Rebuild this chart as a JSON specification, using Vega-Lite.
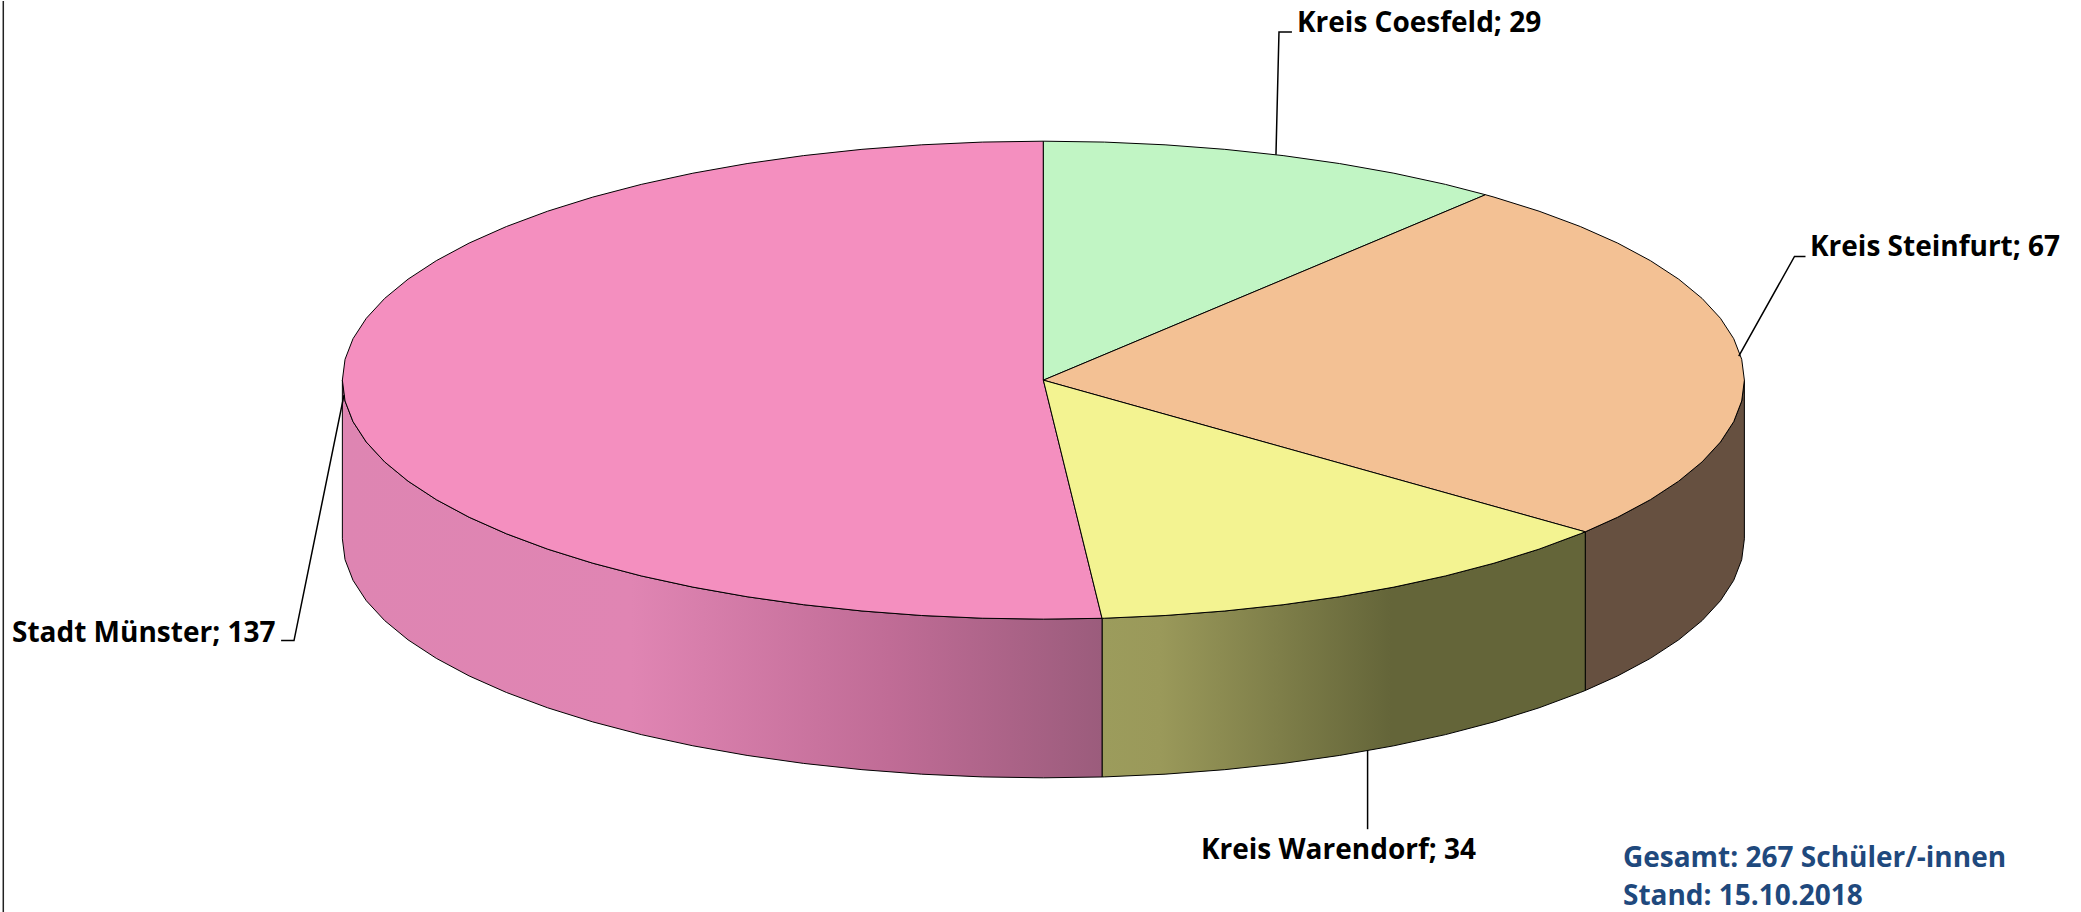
{
"$schema":"https://vega.github.io/schema/vega-lite/v6.json",
"width":2081,"height":912,
"autosize":{"type":"fit","contains":"padding"},
"padding":0,
"background":"white",
"view":{"stroke":null},
"config":{"axis":{"domain":false,"grid":false,"ticks":false,"labels":false,"title":null}},
"datasets":{
"top":[
{"k":"Coesfeld","i":0,"x":0,"y":0},{"k":"Coesfeld","i":1,"x":0,"y":100},{"k":"Coesfeld","i":2,"x":8.72,"y":99.62},{"k":"Coesfeld","i":3,"x":17.36,"y":98.48},{"k":"Coesfeld","i":4,"x":25.88,"y":96.59},{"k":"Coesfeld","i":5,"x":34.2,"y":93.97},{"k":"Coesfeld","i":6,"x":42.26,"y":90.63},{"k":"Coesfeld","i":7,"x":50,"y":86.6},{"k":"Coesfeld","i":8,"x":57.36,"y":81.92},{"k":"Coesfeld","i":9,"x":63.07,"y":77.59},
{"k":"Steinfurt","i":0,"x":0,"y":0},{"k":"Steinfurt","i":1,"x":63.07,"y":77.59},{"k":"Steinfurt","i":2,"x":64.28,"y":76.6},{"k":"Steinfurt","i":3,"x":70.71,"y":70.71},{"k":"Steinfurt","i":4,"x":76.6,"y":64.28},{"k":"Steinfurt","i":5,"x":81.92,"y":57.36},{"k":"Steinfurt","i":6,"x":86.6,"y":50},{"k":"Steinfurt","i":7,"x":90.63,"y":42.26},{"k":"Steinfurt","i":8,"x":93.97,"y":34.2},{"k":"Steinfurt","i":9,"x":96.59,"y":25.88},{"k":"Steinfurt","i":10,"x":98.48,"y":17.36},{"k":"Steinfurt","i":11,"x":99.62,"y":8.72},{"k":"Steinfurt","i":12,"x":100,"y":0},{"k":"Steinfurt","i":13,"x":99.62,"y":-8.72},{"k":"Steinfurt","i":14,"x":98.48,"y":-17.36},{"k":"Steinfurt","i":15,"x":96.59,"y":-25.88},{"k":"Steinfurt","i":16,"x":93.97,"y":-34.2},{"k":"Steinfurt","i":17,"x":90.63,"y":-42.26},{"k":"Steinfurt","i":18,"x":86.6,"y":-50},{"k":"Steinfurt","i":19,"x":81.92,"y":-57.36},{"k":"Steinfurt","i":20,"x":77.3,"y":-63.46},
{"k":"Warendorf","i":0,"x":0,"y":0},{"k":"Warendorf","i":1,"x":77.3,"y":-63.46},{"k":"Warendorf","i":2,"x":76.6,"y":-64.28},{"k":"Warendorf","i":3,"x":70.71,"y":-70.71},{"k":"Warendorf","i":4,"x":64.28,"y":-76.6},{"k":"Warendorf","i":5,"x":57.36,"y":-81.92},{"k":"Warendorf","i":6,"x":50,"y":-86.6},{"k":"Warendorf","i":7,"x":42.26,"y":-90.63},{"k":"Warendorf","i":8,"x":34.2,"y":-93.97},{"k":"Warendorf","i":9,"x":25.88,"y":-96.59},{"k":"Warendorf","i":10,"x":17.36,"y":-98.48},{"k":"Warendorf","i":11,"x":8.72,"y":-99.62},{"k":"Warendorf","i":12,"x":8.37,"y":-99.65},
{"k":"Münster","i":0,"x":0,"y":0},{"k":"Münster","i":1,"x":8.37,"y":-99.65},{"k":"Münster","i":2,"x":0,"y":-100},{"k":"Münster","i":3,"x":-8.72,"y":-99.62},{"k":"Münster","i":4,"x":-17.36,"y":-98.48},{"k":"Münster","i":5,"x":-25.88,"y":-96.59},{"k":"Münster","i":6,"x":-34.2,"y":-93.97},{"k":"Münster","i":7,"x":-42.26,"y":-90.63},{"k":"Münster","i":8,"x":-50,"y":-86.6},{"k":"Münster","i":9,"x":-57.36,"y":-81.92},{"k":"Münster","i":10,"x":-64.28,"y":-76.6},{"k":"Münster","i":11,"x":-70.71,"y":-70.71},{"k":"Münster","i":12,"x":-76.6,"y":-64.28},{"k":"Münster","i":13,"x":-81.92,"y":-57.36},{"k":"Münster","i":14,"x":-86.6,"y":-50},{"k":"Münster","i":15,"x":-90.63,"y":-42.26},{"k":"Münster","i":16,"x":-93.97,"y":-34.2},{"k":"Münster","i":17,"x":-96.59,"y":-25.88},{"k":"Münster","i":18,"x":-98.48,"y":-17.36},{"k":"Münster","i":19,"x":-99.62,"y":-8.72},{"k":"Münster","i":20,"x":-100,"y":0},{"k":"Münster","i":21,"x":-99.62,"y":8.72},{"k":"Münster","i":22,"x":-98.48,"y":17.36},{"k":"Münster","i":23,"x":-96.59,"y":25.88},{"k":"Münster","i":24,"x":-93.97,"y":34.2},{"k":"Münster","i":25,"x":-90.63,"y":42.26},{"k":"Münster","i":26,"x":-86.6,"y":50},{"k":"Münster","i":27,"x":-81.92,"y":57.36},{"k":"Münster","i":28,"x":-76.6,"y":64.28},{"k":"Münster","i":29,"x":-70.71,"y":70.71},{"k":"Münster","i":30,"x":-64.28,"y":76.6},{"k":"Münster","i":31,"x":-57.36,"y":81.92},{"k":"Münster","i":32,"x":-50,"y":86.6},{"k":"Münster","i":33,"x":-42.26,"y":90.63},{"k":"Münster","i":34,"x":-34.2,"y":93.97},{"k":"Münster","i":35,"x":-25.88,"y":96.59},{"k":"Münster","i":36,"x":-17.36,"y":98.48},{"k":"Münster","i":37,"x":-8.72,"y":99.62},{"k":"Münster","i":38,"x":0,"y":100}
],
"side":[
{"k":"Steinfurt","x":100,"y":0,"yb":-66.4},{"k":"Steinfurt","x":99.62,"y":-8.72,"yb":-75.12},{"k":"Steinfurt","x":98.48,"y":-17.36,"yb":-83.76},{"k":"Steinfurt","x":96.59,"y":-25.88,"yb":-92.28},{"k":"Steinfurt","x":93.97,"y":-34.2,"yb":-100.6},{"k":"Steinfurt","x":90.63,"y":-42.26,"yb":-108.66},{"k":"Steinfurt","x":86.6,"y":-50,"yb":-116.4},{"k":"Steinfurt","x":81.92,"y":-57.36,"yb":-123.76},{"k":"Steinfurt","x":77.3,"y":-63.46,"yb":-129.86},
{"k":"Warendorf","x":77.3,"y":-63.46,"yb":-129.86},{"k":"Warendorf","x":76.6,"y":-64.28,"yb":-130.68},{"k":"Warendorf","x":70.71,"y":-70.71,"yb":-137.11},{"k":"Warendorf","x":64.28,"y":-76.6,"yb":-143},{"k":"Warendorf","x":57.36,"y":-81.92,"yb":-148.32},{"k":"Warendorf","x":50,"y":-86.6,"yb":-153},{"k":"Warendorf","x":42.26,"y":-90.63,"yb":-157.03},{"k":"Warendorf","x":34.2,"y":-93.97,"yb":-160.37},{"k":"Warendorf","x":25.88,"y":-96.59,"yb":-162.99},{"k":"Warendorf","x":17.36,"y":-98.48,"yb":-164.88},{"k":"Warendorf","x":8.72,"y":-99.62,"yb":-166.02},{"k":"Warendorf","x":8.37,"y":-99.65,"yb":-166.05},
{"k":"Münster","x":8.37,"y":-99.65,"yb":-166.05},{"k":"Münster","x":0,"y":-100,"yb":-166.4},{"k":"Münster","x":-8.72,"y":-99.62,"yb":-166.02},{"k":"Münster","x":-17.36,"y":-98.48,"yb":-164.88},{"k":"Münster","x":-25.88,"y":-96.59,"yb":-162.99},{"k":"Münster","x":-34.2,"y":-93.97,"yb":-160.37},{"k":"Münster","x":-42.26,"y":-90.63,"yb":-157.03},{"k":"Münster","x":-50,"y":-86.6,"yb":-153},{"k":"Münster","x":-57.36,"y":-81.92,"yb":-148.32},{"k":"Münster","x":-64.28,"y":-76.6,"yb":-143},{"k":"Münster","x":-70.71,"y":-70.71,"yb":-137.11},{"k":"Münster","x":-76.6,"y":-64.28,"yb":-130.68},{"k":"Münster","x":-81.92,"y":-57.36,"yb":-123.76},{"k":"Münster","x":-86.6,"y":-50,"yb":-116.4},{"k":"Münster","x":-90.63,"y":-42.26,"yb":-108.66},{"k":"Münster","x":-93.97,"y":-34.2,"yb":-100.6},{"k":"Münster","x":-96.59,"y":-25.88,"yb":-92.28},{"k":"Münster","x":-98.48,"y":-17.36,"yb":-83.76},{"k":"Münster","x":-99.62,"y":-8.72,"yb":-75.12},{"k":"Münster","x":-100,"y":0,"yb":-66.4}
],
"leaders":[
{"k":"Coesfeld","i":0,"x":33.18,"y":94.36},{"k":"Coesfeld","i":1,"x":33.61,"y":145.72},{"k":"Coesfeld","i":2,"x":35.46,"y":145.72},
{"k":"Steinfurt","i":0,"x":99.2,"y":10.02},{"k":"Steinfurt","i":1,"x":107.15,"y":51.77},{"k":"Steinfurt","i":2,"x":108.72,"y":51.77},
{"k":"Warendorf","i":0,"x":46.25,"y":-154.9},{"k":"Warendorf","i":1,"x":46.25,"y":-187.9},
{"k":"Münster","i":0,"x":-99.77,"y":-6.26},{"k":"Münster","i":1,"x":-106.9,"y":-108.98},{"k":"Münster","i":2,"x":-108.74,"y":-108.98}
],
"labels":[
{"label":"Kreis Coesfeld; 29","x":36.18,"y":145.72},
{"label":"Kreis Steinfurt; 67","x":109.36,"y":51.77},
{"label":"Kreis Warendorf; 34","x":22.48,"y":-200.4},
{"label":"Stadt Münster; 137","x":-147.13,"y":-109.4}
],
"notes":[
{"label":"Gesamt: 267 Schüler/-innen","x":82.68,"y":-203.76},
{"label":"Stand: 15.10.2018","x":82.68,"y":-219.6}
],
"frame":[{"x":-148.37}]
},
"encoding":{
"x":{"field":"x","type":"quantitative","axis":null,"scale":{"domain":[-148.84,148.02],"nice":false,"zero":false}},
"y":{"field":"y","type":"quantitative","axis":null,"scale":{"domain":[-222.13,158.66],"nice":false,"zero":false}}
},
"layer":[
{"data":{"name":"frame"},"mark":{"type":"rule","color":"#222222","strokeWidth":1.5},"encoding":{"y":{"value":0},"y2":{"value":912}}},
{"data":{"name":"side"},"transform":[{"filter":"datum.k==='Steinfurt'"}],"mark":{"type":"area","fill":"#665040","stroke":"#000000","strokeWidth":1},"encoding":{"y2":{"field":"yb"}}},
{"data":{"name":"side"},"transform":[{"filter":"datum.k==='Warendorf'"}],"mark":{"type":"area","stroke":"#000000","strokeWidth":1,"fill":{"gradient":"linear","x1":0,"x2":1,"y1":0,"y2":0,"stops":[{"offset":0,"color":"#9c9c5c"},{"offset":0.12,"color":"#9a995a"},{"offset":0.6,"color":"#646539"},{"offset":1,"color":"#646539"}]}},"encoding":{"y2":{"field":"yb"}}},
{"data":{"name":"side"},"transform":[{"filter":"datum.k==='Münster'"}],"mark":{"type":"area","stroke":"#000000","strokeWidth":1,"fill":{"gradient":"linear","x1":0,"x2":1,"y1":0,"y2":0,"stops":[{"offset":0,"color":"#de85b2"},{"offset":0.38,"color":"#e085b3"},{"offset":0.72,"color":"#c06c96"},{"offset":1,"color":"#9b5c7c"}]}},"encoding":{"y2":{"field":"yb"}}},
{"data":{"name":"top"},"transform":[{"filter":"datum.k==='Münster'"}],"mark":{"type":"line","interpolate":"linear-closed","fill":"#f48fbf","stroke":"#000000","strokeWidth":1},"encoding":{"order":{"field":"i","type":"ordinal"}}},
{"data":{"name":"top"},"transform":[{"filter":"datum.k==='Coesfeld'"}],"mark":{"type":"line","interpolate":"linear-closed","fill":"#c1f5c4","stroke":"#000000","strokeWidth":1},"encoding":{"order":{"field":"i","type":"ordinal"}}},
{"data":{"name":"top"},"transform":[{"filter":"datum.k==='Steinfurt'"}],"mark":{"type":"line","interpolate":"linear-closed","fill":"#f3c194","stroke":"#000000","strokeWidth":1},"encoding":{"order":{"field":"i","type":"ordinal"}}},
{"data":{"name":"top"},"transform":[{"filter":"datum.k==='Warendorf'"}],"mark":{"type":"line","interpolate":"linear-closed","fill":"#f3f391","stroke":"#000000","strokeWidth":1},"encoding":{"order":{"field":"i","type":"ordinal"}}},
{"data":{"name":"leaders"},"mark":{"type":"line","stroke":"#000000","strokeWidth":1.5},"encoding":{"detail":{"field":"k"},"order":{"field":"i","type":"ordinal"}}},
{"data":{"name":"labels"},"mark":{"type":"text","align":"left","baseline":"alphabetic","font":"Open Sans","fontWeight":700,"fontSize":28,"fill":"#000000"},"encoding":{"text":{"field":"label"}}},
{"data":{"name":"notes"},"mark":{"type":"text","align":"left","baseline":"alphabetic","font":"Open Sans","fontWeight":700,"fontSize":28,"fill":"#1f497d"},"encoding":{"text":{"field":"label"}}}
]
}
